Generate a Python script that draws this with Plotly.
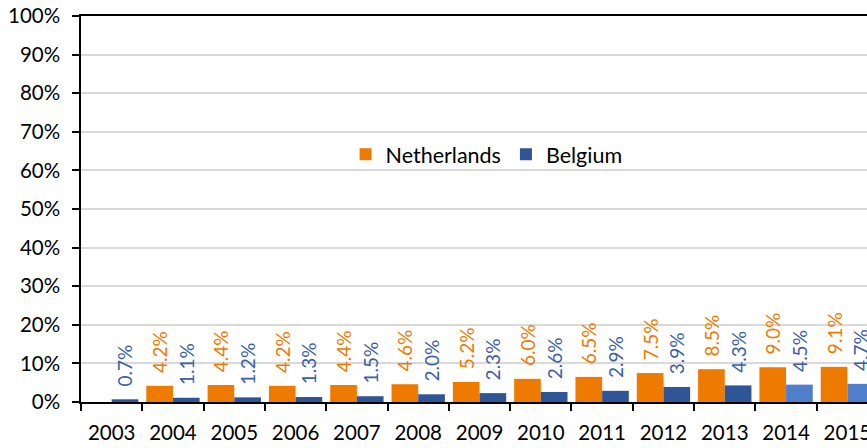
import plotly.graph_objects as go

years = ["2003", "2004", "2005", "2006", "2007", "2008", "2009", "2010",
         "2011", "2012", "2013", "2014", "2015"]
netherlands = [None, 4.2, 4.4, 4.2, 4.4, 4.6, 5.2, 6.0, 6.5, 7.5, 8.5, 9.0, 9.1]
belgium = [0.7, 1.1, 1.2, 1.3, 1.5, 2.0, 2.3, 2.6, 2.9, 3.9, 4.3, 4.5, 4.7]
y_ticks = [0, 10, 20, 30, 40, 50, 60, 70, 80, 90, 100]
y_tick_labels = ["0%", "10%", "20%", "30%", "40%", "50%", "60%", "70%",
                 "80%", "90%", "100%"]

ORANGE = "#EF7A00"
BLUE = "#2F5597"
LIGHT_BLUE = "#4F7FCB"
BLUE_TEXT = "#3A60A6"
PAD = "\u00a0\u00a0"

def labels(vals):
    return [PAD + f"{v:.1f}%" if v is not None else "" for v in vals]

bel_colors = [LIGHT_BLUE if y in ("2014", "2015") else BLUE for y in years]

FONT = "Lato, Carlito, 'Liberation Sans', sans-serif"

fig = go.Figure()
fig.add_trace(go.Bar(
    x=years, y=netherlands, name="Netherlands",
    marker=dict(color=ORANGE, line=dict(width=0)),
    text=labels(netherlands), textposition="outside", textangle=-90,
    textfont=dict(color=ORANGE, size=19, family=FONT),
    constraintext="none", cliponaxis=False,
))
fig.add_trace(go.Bar(
    x=years, y=belgium, name="Belgium",
    marker=dict(color=bel_colors, line=dict(width=0)),
    text=labels(belgium), textposition="outside", textangle=-90,
    textfont=dict(color=BLUE_TEXT, size=19, family=FONT),
    constraintext="none", cliponaxis=False,
))

fig.update_layout(
    width=867, height=448,
    margin=dict(l=81, r=0, t=16, b=46, autoexpand=False),
    paper_bgcolor="white", plot_bgcolor="white",
    barmode="group", bargap=0.13, bargroupgap=0,
    font=dict(family=FONT, size=20, color="black"),
    showlegend=True,
    legend=dict(
        orientation="h", x=0.516, y=0.642, xanchor="center", yanchor="middle",
        bgcolor="rgba(0,0,0,0)", font=dict(size=21.5, family=FONT, color="black"),
        traceorder="normal",
    ),
)
fig.update_xaxes(
    type="category", range=[-0.5, 12.32], automargin=False,
    showline=True, linecolor="black", linewidth=1.5, mirror=True,
    ticks="outside", ticklen=7, tickcolor="black", tickwidth=1.5,
    tickson="boundaries", showgrid=False,
    tickfont=dict(size=20.5, family=FONT, color="black"),
    ticklabelstandoff=12,
)
fig.update_yaxes(
    range=[0, 100], tickvals=y_ticks, ticktext=y_tick_labels, automargin=False,
    showline=True, linecolor="black", linewidth=1.5,
    ticks="outside", ticklen=7, tickcolor="black", tickwidth=1.5,
    showgrid=True, gridcolor="#D9D9D9", gridwidth=1.5,
    zeroline=False,
    tickfont=dict(size=20.5, family=FONT, color="black"),
    ticklabelstandoff=8,
)

fig.write_html(
    "out.html",
    config={"displayModeBar": False},
    post_script="document.body.style.margin='0';document.body.style.overflow='hidden';",
)
